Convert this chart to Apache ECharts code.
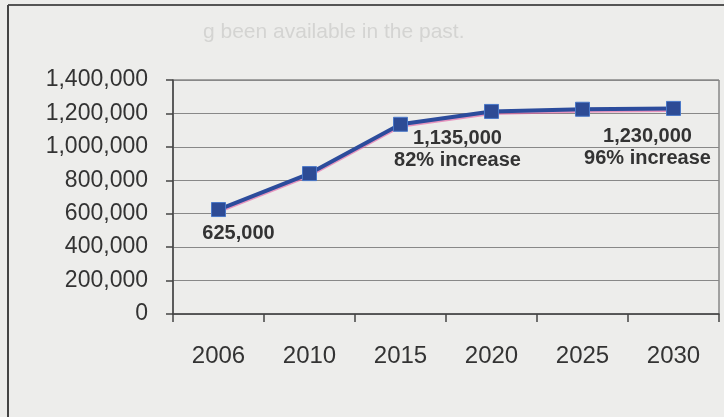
<!DOCTYPE html>
<html>
<head>
<meta charset="utf-8">
<script src="https://cdn.jsdelivr.net/npm/echarts@6/dist/echarts.min.js"></script>
<style>
html,body{margin:0;padding:0;background:#ededeb;}
#c{width:724px;height:417px;}
</style>
</head>
<body>
<div id="c"></div>
<script>
const years = ['2006', '2010', '2015', '2020', '2025', '2030'];
const values = [625000, 840000, 1135000, 1212000, 1225000, 1230000];
const labelTexts = ['625,000', '', '1,135,000\n82% increase', '', '', '1,230,000\n96% increase'];
const labelOffsets = [[20, 5], null, [57, -4], null, null, [-26, 10]];
const yTicks = { min: 0, max: 1400000, interval: 200000 };

const chart = echarts.init(document.getElementById('c'));
const fmt = v => v.toLocaleString('en-US');

const data = values.map((v, i) => {
  const item = { value: v };
  if (labelTexts[i]) {
    item.label = {
      show: true,
      position: 'bottom',
      distance: 0,
      offset: labelOffsets[i],
      formatter: labelTexts[i],
      fontFamily: 'Liberation Sans, Arial, sans-serif',
      fontWeight: 'bold',
      fontSize: 20,
      lineHeight: 22,
      color: '#333',
      align: 'center'
    };
  }
  return item;
});

chart.setOption({
  backgroundColor: '#ededeb',
  animation: false,
  grid: { left: 173, right: 5, top: 80, bottom: 103, show: true, borderColor: '#555', borderWidth: 1, backgroundColor: 'transparent' },
  graphic: [
    { type: 'line', shape: { x1: 8, y1: 5, x2: 724, y2: 5 }, style: { stroke: '#555', lineWidth: 2 } },
    { type: 'line', shape: { x1: 8, y1: 5, x2: 8, y2: 417 }, style: { stroke: '#444', lineWidth: 2 } },
    { type: 'text', left: 203, top: 22, style: { text: 'g been available in the past.', fontFamily: 'Liberation Sans, Arial, sans-serif', fontSize: 21, fill: '#d4d4d2' } }
  ],
  xAxis: {
    type: 'category',
    data: years,
    boundaryGap: true,
    axisLine: { lineStyle: { color: '#444', width: 1.5 } },
    axisTick: { show: true, length: 8, alignWithLabel: false, lineStyle: { color: '#444', width: 1.5 } },
    axisLabel: { margin: 30, fontSize: 24, color: '#333', fontFamily: 'Liberation Sans, Arial, sans-serif' },
    splitLine: { show: false }
  },
  yAxis: {
    type: 'value',
    min: yTicks.min,
    max: yTicks.max,
    interval: yTicks.interval,
    axisLine: { show: true, lineStyle: { color: '#444', width: 1.5 } },
    axisTick: { show: true, length: 7, lineStyle: { color: '#444', width: 1.5 } },
    axisLabel: { margin: 25, fontSize: 23, color: '#333', fontFamily: 'Liberation Sans, Arial, sans-serif', formatter: fmt },
    splitLine: { show: true, lineStyle: { color: '#888', width: 1 } }
  },
  series: [{
    type: 'line',
    data: data,
    symbol: 'rect',
    symbolSize: 14,
    lineStyle: { color: '#2c4c9c', width: 4, shadowColor: 'rgba(225,90,160,0.6)', shadowOffsetY: 1.5, shadowBlur: 0 },
    itemStyle: { color: '#2d4b95', borderColor: '#4a78c8', borderWidth: 1 },
    label: { show: false },
    z: 5
  }]
});
</script>
</body>
</html>
